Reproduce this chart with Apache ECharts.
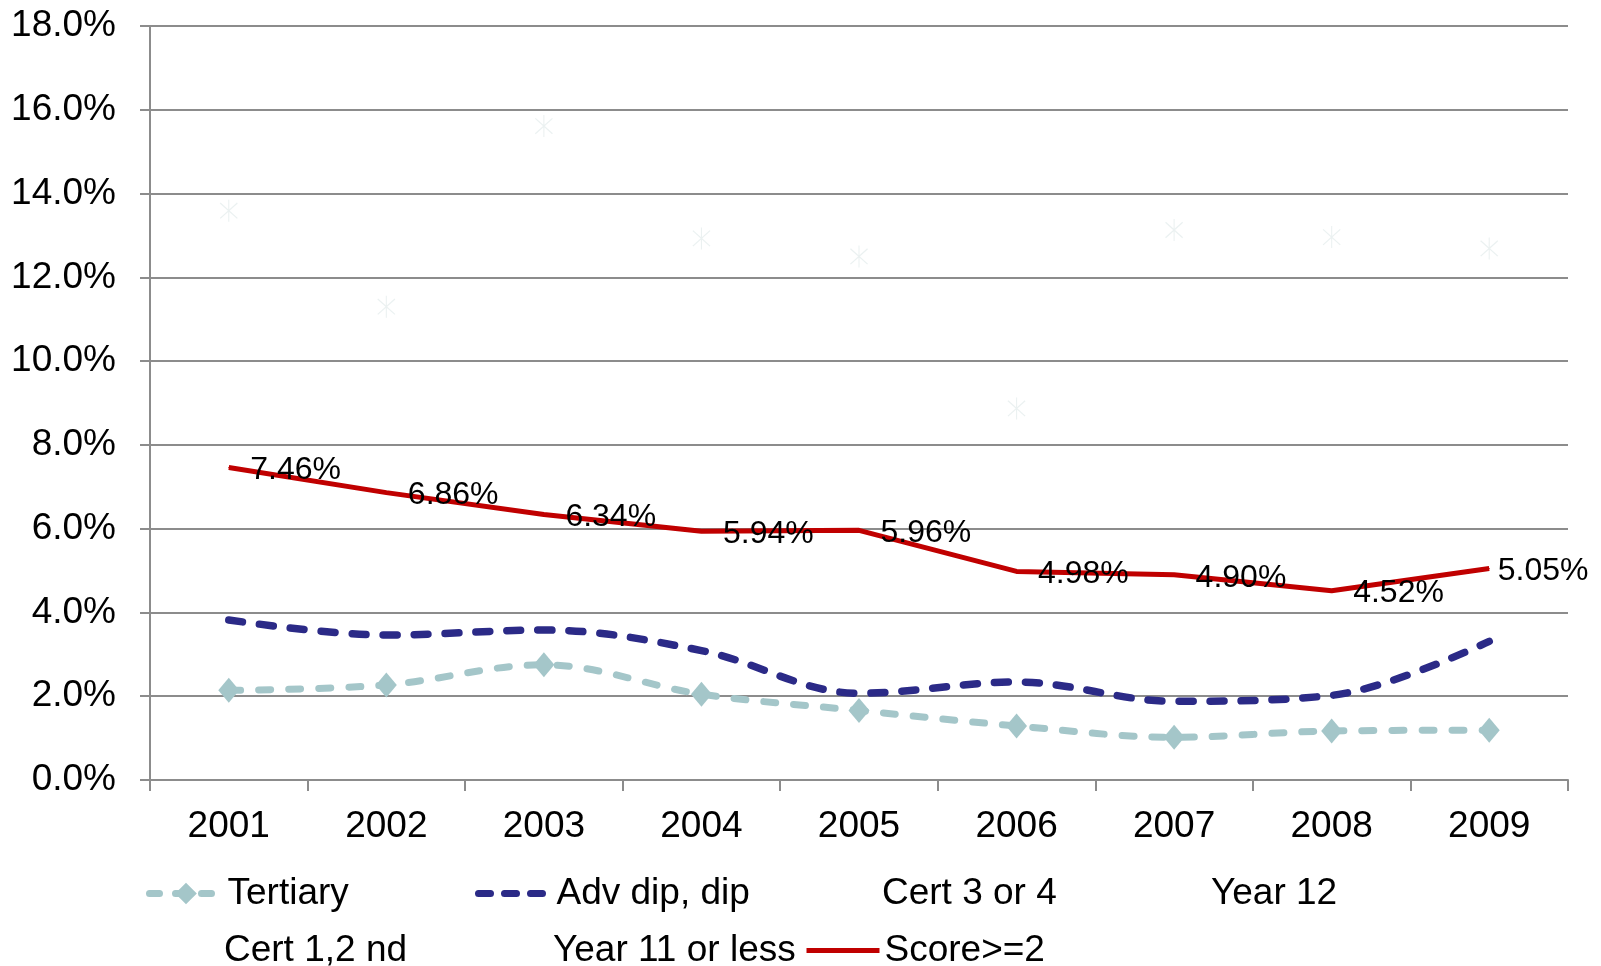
<!DOCTYPE html>
<html>
<head>
<meta charset="utf-8">
<script src="https://cdn.jsdelivr.net/npm/echarts@6/dist/echarts.min.js"></script>
<style>
  html, body { margin: 0; padding: 0; background: #ffffff; }
  #chart { width: 1601px; height: 966px; }
</style>
</head>
<body>
<div id="chart"></div>
<script>
// Survey years along the category axis
const years = ['2001', '2002', '2003', '2004', '2005', '2006', '2007', '2008', '2009'];

// Share of people (%) by highest qualification
const tertiary    = [2.14, 2.27, 2.75, 2.05, 1.66, 1.29, 1.02, 1.17, 1.19];
const advDip      = [3.82, 3.46, 3.58, 3.09, 2.07, 2.34, 1.88, 2.02, 3.31];
const cert34      = [];
const year12      = [];
const cert12      = [];
const year11less  = [13.59, 11.30, 15.61, 12.93, 12.50, 8.87, 13.13, 12.96, 12.69];
const scoreGe2    = [7.46, 6.86, 6.34, 5.94, 5.96, 4.98, 4.90, 4.52, 5.05];

// Value axis ticks
const yMin = 0, yMax = 18, yStep = 2;

const FONT = '"Liberation Sans", Arial, sans-serif';
const C_TERT = '#a4c6c9';
const C_ADV = '#2b2a87';
const C_RED = '#c00000';
const C_GRID = '#8c8c8c';

// thin asterisk drawn as three narrow bars
const asterisk = 'path://M9.5,0 L10.5,0 L10.5,20 L9.5,20 Z M1.6,3.4 L2.4,2.6 L18.4,16.6 L17.6,17.4 Z M17.6,2.6 L18.4,3.4 L2.4,17.4 L1.6,16.6 Z';

const chart = echarts.init(document.getElementById('chart'), null, { renderer: 'canvas' });

const labelFont = { fontFamily: FONT, fontSize: 32, color: '#000' };

function legendBox(name, left, top, extra) {
  return {
    show: true,
    left: left,
    top: top,
    orient: 'horizontal',
    padding: 0,
    itemWidth: 73,
    itemHeight: 27,
    selectedMode: false,
    textStyle: { fontFamily: FONT, fontSize: 37, color: '#000' },
    data: [Object.assign({ name: name }, extra || {})]
  };
}

const hidden = { icon: 'rect', itemStyle: { opacity: 0 }, lineStyle: { opacity: 0 } };

const legendRow1 = 875, legendRow2 = 932;

const option = {
  backgroundColor: '#ffffff',
  animation: false,
  grid: { left: 150, right: 33, top: 26, bottom: 186, containLabel: false },
  legend: [
    legendBox('Tertiary', 146, legendRow1, {
      lineStyle: { color: C_TERT, width: 7, type: [10, 16], cap: 'round' }
    }),
    legendBox('Adv dip, dip', 475, legendRow1, {
      itemStyle: { opacity: 0 },
      lineStyle: { color: C_ADV, width: 7, type: [12, 14], cap: 'round' }
    }),
    legendBox('Cert 3 or 4', 804, legendRow1, hidden),
    legendBox('Year 12', 1133, legendRow1, hidden),
    legendBox('Cert 1,2 nd', 146, legendRow2, hidden),
    legendBox('Year 11 or less', 475, legendRow2, hidden),
    legendBox('Score>=2', 804, legendRow2, {
      itemStyle: { opacity: 0 },
      lineStyle: { color: C_RED, width: 5 }
    })
  ],
  xAxis: {
    type: 'category',
    data: years,
    boundaryGap: true,
    axisLine: { show: true, lineStyle: { color: C_GRID, width: 2 } },
    axisTick: { show: true, length: 11, lineStyle: { color: C_GRID, width: 2 } },
    axisLabel: { margin: 28, fontFamily: FONT, fontSize: 37, color: '#000' },
    splitLine: { show: false }
  },
  yAxis: {
    type: 'value',
    min: yMin,
    max: yMax,
    interval: yStep,
    axisLine: { show: true, lineStyle: { color: C_GRID, width: 2 } },
    axisTick: { show: true, length: 10, lineStyle: { color: C_GRID, width: 2 } },
    axisLabel: {
      margin: 34,
      fontFamily: FONT,
      fontSize: 37,
      color: '#000',
      formatter: v => v.toFixed(1) + '%'
    },
    splitLine: { show: true, lineStyle: { color: C_GRID, width: 2 } }
  },
  series: [
    {
      name: 'Year 11 or less',
      type: 'scatter',
      data: year11less,
      symbol: asterisk,
      symbolSize: [18, 22],
      itemStyle: { color: '#e6eeee' },
      z: 1
    },
    { name: 'Cert 3 or 4', type: 'line', data: cert34, showSymbol: false },
    { name: 'Year 12', type: 'line', data: year12, showSymbol: false },
    { name: 'Cert 1,2 nd', type: 'line', data: cert12, showSymbol: false },
    {
      name: 'Tertiary',
      type: 'line',
      data: tertiary,
      smooth: 0.35,
      symbol: 'diamond',
      symbolSize: [21, 25],
      itemStyle: { color: C_TERT },
      lineStyle: { color: C_TERT, width: 7, type: [12, 18], cap: 'round' },
      z: 3
    },
    {
      name: 'Adv dip, dip',
      type: 'line',
      data: advDip,
      smooth: 0.35,
      symbol: 'none',
      itemStyle: { color: C_ADV },
      lineStyle: { color: C_ADV, width: 7.5, type: [14, 17], cap: 'round' },
      z: 4
    },
    {
      name: 'Score>=2',
      type: 'line',
      data: scoreGe2.map((v, i) => i === scoreGe2.length - 1
        ? { value: v, label: { distance: 8 } }
        : v),
      symbol: 'circle',
      symbolSize: 1,
      itemStyle: { color: C_RED },
      lineStyle: { color: C_RED, width: 5 },
      label: Object.assign({
        show: true,
        position: 'right',
        distance: 21,
        offset: [0, 3],
        formatter: p => p.value.toFixed(2) + '%'
      }, labelFont),
      z: 5
    }
  ]
};

chart.setOption(option);
</script>
</body>
</html>
